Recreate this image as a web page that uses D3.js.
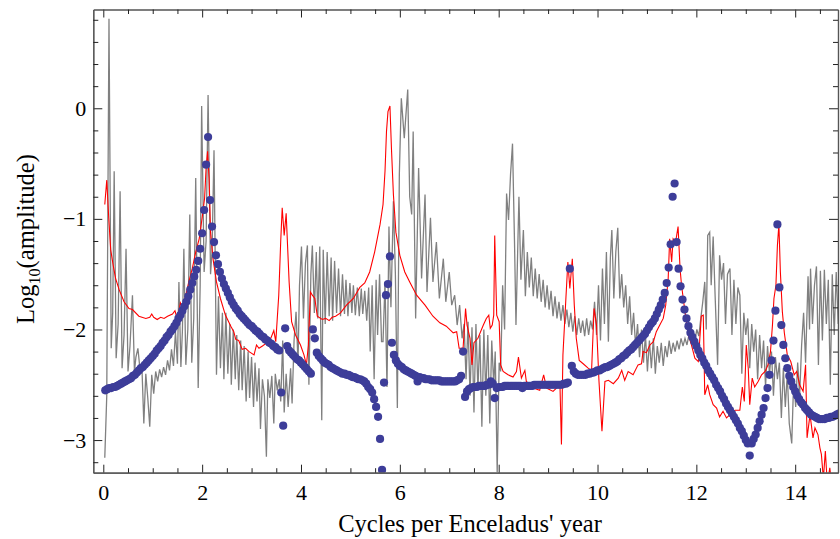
<!DOCTYPE html>
<html><head><meta charset="utf-8">
<script src="https://cdnjs.cloudflare.com/ajax/libs/d3/7.8.5/d3.min.js"></script>
<style>body{margin:0;background:#fff}svg{display:block}</style>
</head><body><svg id="c" width="840" height="539"></svg>
<script>
// ---------- data ----------
const xTicks = [0, 2, 4, 6, 8, 10, 12, 14];
const yTicks = [-3, -2, -1, 0];
const xLabel = "Cycles per Enceladus' year";

// blue dots: evenly sampled (start 0.04, step 0.04)
const blueStart = 0.04, blueStep = 0.04;
const blueY = [
-2.55,-2.54,-2.53,-2.53,-2.52,-2.52,-2.51,-2.50,-2.49,-2.48,
-2.47,-2.46,-2.45,-2.44,-2.42,-2.41,-2.39,-2.37,-2.35,-2.34,
-2.32,-2.30,-2.28,-2.26,-2.24,-2.22,-2.19,-2.17,-2.15,-2.12,
-2.10,-2.07,-2.05,-2.02,-2.00,-1.97,-1.94,-1.90,-1.87,-1.83,
-1.79,-1.75,-1.70,-1.64,-1.58,-1.52,-1.46,-1.38,-1.27,-1.13,
-0.92,-0.51,-0.26,-0.83,-1.07,-1.21,-1.33,-1.41,-1.48,-1.54,
-1.59,-1.63,-1.67,-1.71,-1.75,-1.78,-1.81,-1.83,-1.86,-1.88,
-1.90,-1.92,-1.94,-1.96,-1.97,-1.99,-2.01,-2.02,-2.04,-2.06,
-2.07,-2.09,-2.10,-2.12,-2.13,-2.15,-2.16,-2.18,-2.19,-2.57,
-2.87,-1.99,-2.15,-2.19,-2.21,-2.23,-2.25,-2.27,-2.28,-2.30,
-2.32,-2.34,-2.36,-2.38,-2.40,-2.00,-2.08,-2.21,-2.24,-2.26,
-2.28,-2.30,-2.31,-2.32,-2.34,-2.35,-2.36,-2.37,-2.38,-2.39,
-2.40,-2.40,-2.41,-2.41,-2.42,-2.43,-2.43,-2.44,-2.45,-2.45,
-2.46,-2.47,-2.49,-2.52,-2.54,-2.57,-2.63,-2.70,-2.79,-2.99,
-3.27,-2.48,-1.69,-1.59,-1.34,-2.12,-2.23,-2.28,-2.31,-2.33,
-2.34,-2.36,-2.37,-2.38,-2.39,-2.40,-2.41,-2.42,-2.47,-2.43,
-2.44,-2.44,-2.45,-2.45,-2.45,-2.46,-2.46,-2.46,-2.46,-2.46,
-2.47,-2.47,-2.47,-2.47,-2.47,-2.47,-2.47,-2.47,-2.46,-2.45,
-2.42,-2.20,-2.61,-2.56,-2.54,-2.53,-2.52,-2.52,-2.52,-2.51,
-2.51,-2.51,-2.51,-2.50,-2.50,-2.47,-2.49,-2.62,-2.53,-2.52,
-2.52,-2.52,-2.51,-2.51,-2.51,-2.51,-2.51,-2.51,-2.51,-2.51,
-2.51,-2.53,-2.51,-2.51,-2.51,-2.51,-2.51,-2.50,-2.50,-2.50,
-2.50,-2.50,-2.50,-2.50,-2.50,-2.50,-2.50,-2.50,-2.50,-2.50,
-2.50,-2.50,-2.49,-2.49,-2.48,-1.45,-2.33,-2.38,-2.40,-2.41,
-2.41,-2.41,-2.41,-2.41,-2.40,-2.40,-2.39,-2.39,-2.38,-2.37,
-2.37,-2.36,-2.35,-2.34,-2.34,-2.33,-2.32,-2.31,-2.30,-2.29,
-2.27,-2.26,-2.24,-2.23,-2.21,-2.19,-2.18,-2.16,-2.14,-2.12,
-2.10,-2.08,-2.06,-2.04,-2.01,-1.98,-1.95,-1.93,-1.90,-1.86,
-1.82,-1.78,-1.73,-1.67,-1.58,-1.44,-1.23,-0.80,-0.68,-1.21,
-1.45,-1.61,-1.73,-1.82,-1.90,-1.97,-2.03,-2.07,-2.11,-2.15,
-2.19,-2.23,-2.26,-2.30,-2.33,-2.37,-2.40,-2.43,-2.46,-2.50,
-2.53,-2.56,-2.60,-2.63,-2.67,-2.70,-2.73,-2.76,-2.79,-2.82,
-2.85,-2.89,-2.92,-2.96,-3.00,-3.03,-3.14,-3.03,-2.99,-2.95,
-2.89,-2.83,-2.77,-2.71,-2.62,-2.53,-2.41,-2.28,-2.10,-1.83,
-1.05,-1.62,-1.96,-2.14,-2.26,-2.35,-2.42,-2.47,-2.52,-2.56,
-2.60,-2.63,-2.66,-2.68,-2.71,-2.73,-2.75,-2.77,-2.78,-2.79,
-2.80,-2.81,-2.81,-2.81,-2.81,-2.80,-2.80,-2.79,-2.79,-2.78,
-2.77,-2.76
];

// red line vertices [x, log10 amplitude]
const redPts = [
[0.03,-0.87],[0.07,-0.65],[0.11,-0.99],[0.15,-1.28],[0.20,-1.42],[0.25,-1.54],[0.32,-1.64],[0.42,-1.75],[0.52,-1.81],[0.59,-1.82],
[0.72,-1.88],[0.86,-1.90],[0.94,-1.89],[0.98,-1.86],[1.02,-1.89],[1.09,-1.91],[1.16,-1.89],[1.23,-1.90],[1.30,-1.88],[1.40,-1.86],
[1.45,-1.83],[1.48,-1.88],[1.53,-1.84],[1.56,-1.76],[1.61,-1.81],[1.67,-1.69],[1.73,-1.57],[1.80,-1.45],[1.87,-1.30],[1.94,-1.18],
[2.00,-0.99],[2.05,-0.81],[2.08,-0.54],[2.11,-0.39],[2.14,-0.63],[2.17,-1.12],[2.22,-1.36],[2.29,-1.57],[2.37,-1.72],[2.47,-1.87],
[2.58,-1.97],[2.64,-2.02],[2.68,-2.09],[2.74,-2.10],[2.81,-2.18],[2.88,-2.17],[2.95,-2.20],[3.05,-2.23],[3.10,-2.14],[3.15,-2.17],
[3.22,-2.15],[3.28,-2.13],[3.38,-2.09],[3.45,-2.01],[3.49,-2.11],[3.55,-1.69],[3.59,-1.20],[3.62,-0.90],[3.66,-1.15],[3.70,-0.95],
[3.76,-1.57],[3.81,-1.93],[3.89,-2.05],[3.99,-2.14],[4.06,-2.23],[4.11,-2.32],[4.15,-2.14],[4.19,-1.66],[4.23,-1.69],[4.28,-1.72],
[4.33,-1.88],[4.43,-1.91],[4.50,-1.90],[4.57,-1.92],[4.63,-1.89],[4.70,-1.88],[4.80,-1.85],[4.92,-1.78],[5.06,-1.72],[5.19,-1.62],
[5.29,-1.58],[5.39,-1.48],[5.49,-1.30],[5.60,-1.05],[5.66,-0.87],[5.70,-0.57],[5.73,-0.21],[5.76,-0.03],[5.80,0.02],[5.83,-0.36],
[5.87,-0.78],[5.92,-1.12],[6.00,-1.33],[6.10,-1.48],[6.20,-1.57],[6.34,-1.69],[6.51,-1.78],[6.67,-1.88],[6.81,-1.94],[6.94,-1.97],
[7.08,-2.03],[7.15,-2.02],[7.20,-2.17],[7.28,-2.17],[7.33,-1.81],[7.36,-1.96],[7.42,-2.08],[7.46,-2.32],[7.50,-2.12],[7.58,-2.08],
[7.69,-1.96],[7.75,-1.90],[7.80,-1.87],[7.83,-1.99],[7.87,-1.96],[7.90,-1.87],[7.92,-1.15],[7.96,-1.87],[8.01,-1.93],[8.04,-2.32],
[8.09,-2.38],[8.19,-2.41],[8.29,-2.43],[8.36,-2.38],[8.40,-2.25],[8.46,-2.44],[8.53,-2.37],[8.56,-2.47],[8.70,-2.53],[8.83,-2.55],
[8.91,-2.41],[8.97,-2.53],[9.10,-2.56],[9.24,-2.50],[9.27,-3.04],[9.30,-2.23],[9.36,-1.72],[9.40,-1.39],[9.44,-1.63],[9.49,-1.36],
[9.53,-1.78],[9.57,-2.08],[9.63,-2.28],[9.71,-2.31],[9.81,-2.35],[9.88,-2.37],[9.93,-1.81],[9.98,-1.96],[10.03,-2.47],[10.09,-2.92],
[10.15,-2.47],[10.22,-2.46],[10.32,-2.49],[10.42,-2.44],[10.49,-2.37],[10.55,-2.46],[10.62,-2.38],[10.72,-2.41],[10.82,-2.32],[10.89,-2.31],
[10.92,-2.20],[10.99,-2.21],[11.06,-2.14],[11.13,-2.11],[11.19,-2.02],[11.26,-1.96],[11.33,-1.90],[11.38,-1.78],[11.43,-1.54],[11.46,-1.18],
[11.50,-1.39],[11.53,-1.18],[11.58,-1.21],[11.63,-1.07],[11.67,-1.45],[11.70,-1.60],[11.77,-1.84],[11.83,-2.03],[11.90,-2.14],[11.97,-2.26],
[12.04,-2.29],[12.10,-1.88],[12.14,-1.87],[12.17,-2.59],[12.23,-2.50],[12.27,-2.59],[12.34,-2.68],[12.41,-2.71],[12.47,-2.79],[12.54,-2.74],
[12.61,-2.80],[12.68,-2.77],[12.78,-2.73],[12.88,-2.73],[12.93,-2.52],[12.97,-2.65],[13.01,-2.14],[13.05,-2.35],[13.08,-2.68],[13.13,-2.44],
[13.18,-2.52],[13.25,-2.47],[13.32,-2.41],[13.39,-2.38],[13.45,-2.32],[13.50,-2.20],[13.54,-1.96],[13.57,-1.72],[13.61,-1.60],[13.64,-1.24],
[13.67,-1.05],[13.70,-1.48],[13.74,-1.84],[13.78,-2.03],[13.84,-2.23],[13.91,-2.29],[13.98,-2.41],[14.03,-2.38],[14.09,-2.50],[14.16,-2.56],
[14.21,-2.32],[14.24,-2.98],[14.30,-2.77],[14.36,-2.98],[14.40,-2.89],[14.46,-2.95],[14.50,-3.07],[14.53,-3.13],[14.57,-3.35],[14.61,-3.10],
[14.65,-3.40],[14.70,-3.25],[14.75,-3.45],[14.80,-3.30],[14.86,-3.50]
];

// gray line vertices [x, log10 amplitude]
const grayPts = [
[0.03,-3.16],[0.07,-2.60],[0.115,0.81],[0.16,-2.17],[0.19,-1.85],[0.22,-0.57],[0.26,-2.26],[0.30,-1.95],[0.34,-0.75],[0.38,-2.35],
[0.42,-2.05],[0.46,-1.27],[0.50,-2.38],[0.54,-2.15],[0.59,-1.69],[0.63,-2.38],[0.66,-2.25],[0.70,-2.17],[0.74,-2.35],
[0.78,-2.32],[0.82,-2.85],[0.86,-2.40],[0.90,-2.62],[0.94,-2.88],[0.98,-2.41],[1.02,-2.58],[1.06,-2.38],[1.10,-2.47],[1.14,-2.36],
[1.18,-2.43],[1.22,-2.34],[1.26,-2.41],[1.30,-2.28],[1.34,-2.37],[1.38,-2.18],[1.42,-2.33],[1.46,-2.02],[1.50,-2.31],
[1.53,-1.57],[1.57,-2.34],[1.60,-2.02],[1.63,-1.27],[1.67,-2.32],[1.71,-2.00],[1.75,-0.96],[1.79,-2.30],[1.83,-1.90],[1.87,-0.63],
[1.92,-2.53],[1.96,-1.60],[1.99,0.02],[2.04,-1.48],[2.08,-1.20],[2.12,0.12],[2.17,-1.50],[2.20,-1.30],[2.24,-0.38],[2.29,-2.41],
[2.33,-1.70],[2.37,-2.35],[2.41,-1.85],[2.44,-2.45],[2.48,-1.85],[2.52,-2.40],[2.56,-1.95],[2.59,-2.50],[2.63,-2.00],[2.67,-2.45],
[2.70,-2.05],[2.74,-2.55],[2.78,-2.10],[2.81,-2.55],[2.85,-2.15],[2.89,-2.65],[2.93,-2.20],[2.96,-2.62],[3.00,-2.25],[3.04,-2.70],
[3.07,-2.30],[3.11,-2.65],[3.15,-2.35],[3.18,-2.90],[3.22,-2.45],[3.26,-2.60],[3.30,-3.15],[3.33,-2.45],[3.37,-2.62],[3.41,-2.42],
[3.45,-2.85],[3.48,-2.40],[3.52,-2.55],[3.56,-2.45],[3.59,-2.65],[3.63,-2.10],[3.66,-2.75],
[3.70,-2.40],[3.74,-2.70],[3.79,-2.35],[3.82,-2.67],[3.86,-2.10],[3.90,-1.84],[3.94,-2.30],[3.97,-1.60],[4.01,-1.25],[4.05,-1.90],
[4.09,-1.40],[4.13,-1.24],[4.16,-2.50],[4.20,-1.50],[4.23,-1.24],[4.27,-1.85],[4.31,-1.30],[4.34,-1.90],[4.38,-1.25],[4.42,-2.82],
[4.45,-1.28],[4.49,-1.95],[4.53,-1.30],[4.57,-1.88],[4.61,-1.35],[4.64,-1.92],[4.68,-1.38],[4.72,-1.85],[4.76,-1.45],[4.80,-1.88],
[4.84,-1.50],[4.88,-1.86],[4.91,-1.55],[4.95,-1.88],[4.99,-1.58],[5.03,-1.85],[5.06,-1.60],[5.10,-1.87],[5.14,-1.62],[5.18,-1.88],
[5.22,-1.63],[5.25,-1.86],[5.29,-1.65],[5.33,-1.92],[5.37,-1.62],[5.40,-2.20],[5.44,-1.60],[5.48,-2.45],[5.52,-1.55],[5.55,-2.05],
[5.59,-1.50],[5.63,-2.11],[5.66,-2.11],[5.70,-1.57],[5.74,-2.52],[5.78,-1.07],[5.82,-1.80],[5.87,-0.84],[5.91,-1.50],[5.95,-2.71],
[5.99,-0.60],[6.03,0.09],[6.09,-0.27],[6.16,0.17],[6.20,-0.80],[6.24,-0.96],[6.27,-0.21],[6.32,-1.90],[6.38,-0.54],[6.44,-1.54],
[6.51,-0.78],[6.55,-1.66],[6.62,-0.99],[6.67,-1.57],[6.74,-1.21],[6.80,-1.72],[6.88,-1.36],[6.93,-1.75],[7.00,-1.48],[7.05,-1.78],
[7.11,-1.69],[7.16,-1.96],[7.21,-1.78],[7.26,-2.08],
[7.30,-1.95],[7.34,-2.45],[7.38,-1.93],[7.42,-2.60],[7.46,-1.98],[7.50,-2.75],[7.54,-1.95],[7.58,-2.55],[7.62,-2.05],[7.66,-2.88],
[7.70,-2.00],[7.74,-2.60],[7.78,-2.05],[7.82,-2.85],[7.86,-2.10],[7.90,-2.50],[7.93,-2.20],[7.97,-3.29],[8.01,-2.30],
[8.04,-2.38],[8.08,-1.60],[8.12,-2.00],[8.16,-0.77],[8.20,-1.01],[8.24,-0.60],[8.28,-0.32],[8.32,-1.20],[8.35,-1.96],[8.41,-0.80],
[8.45,-1.55],[8.50,-1.10],[8.54,-1.70],[8.58,-1.30],[8.62,-1.62],[8.66,-1.35],[8.70,-1.70],[8.74,-1.45],[8.78,-1.72],
[8.82,-1.50],[8.86,-1.75],[8.90,-1.55],[8.94,-1.80],[8.98,-1.60],[9.02,-1.82],[9.06,-1.65],[9.10,-1.88],[9.14,-1.70],[9.18,-1.90],
[9.22,-1.75],[9.26,-1.92],[9.30,-1.78],[9.34,-1.95],[9.38,-1.82],[9.42,-1.98],[9.46,-1.85],[9.50,-2.02],[9.54,-1.88],[9.58,-2.05],
[9.62,-1.90],[9.66,-2.03],[9.70,-1.92],[9.74,-2.06],[9.78,-1.90],[9.82,-2.05],[9.86,-1.92],
[9.90,-2.00],[9.94,-1.75],[9.98,-2.05],[10.02,-1.60],[10.06,-2.10],[10.10,-1.45],[10.14,-1.95],[10.18,-1.30],[10.22,-2.11],[10.26,-1.35],
[10.29,-1.10],[10.33,-1.72],[10.37,-1.30],[10.41,-1.08],[10.45,-1.72],[10.49,-1.50],[10.53,-1.80],[10.57,-1.60],[10.61,-1.95],[10.65,-1.70],
[10.69,-2.05],[10.73,-1.85],[10.77,-2.15],
[10.81,-1.95],[10.85,-2.25],[10.89,-2.00],[10.93,-2.30],[10.97,-2.05],[11.01,-2.38],[11.05,-2.10],[11.09,-2.35],[11.13,-2.08],[11.17,-2.40],
[11.21,-2.15],[11.25,-2.30],[11.29,-2.12],[11.33,-2.33],[11.37,-2.15],[11.41,-2.25],[11.45,-2.10],[11.49,-2.22],[11.53,-2.12],[11.57,-2.20],
[11.61,-2.10],[11.65,-2.18],[11.69,-2.08],[11.73,-2.15],[11.77,-2.08],[11.81,-2.14],[11.85,-2.05],[11.89,-2.12],[11.93,-2.02],[11.97,-2.10],
[12.01,-2.00],[12.05,-2.06],[12.09,-1.90],
[12.13,-1.75],[12.17,-1.57],[12.20,-2.00],[12.23,-1.15],[12.27,-1.12],[12.30,-1.60],[12.34,-1.16],[12.38,-1.70],[12.43,-2.32],[12.47,-1.33],
[12.51,-1.55],[12.55,-1.40],[12.59,-1.95],[12.63,-1.50],[12.68,-1.45],[12.72,-2.05],[12.76,-1.55],[12.80,-1.95],[12.84,-1.62],[12.88,-1.69],
[12.92,-2.40],[12.96,-1.85],[13.00,-2.05],
[13.04,-1.90],[13.08,-2.35],[13.12,-1.95],[13.16,-2.20],[13.20,-2.00],[13.24,-2.45],[13.28,-2.05],[13.32,-2.35],[13.36,-2.10],[13.40,-2.52],
[13.44,-2.15],[13.48,-2.40],[13.52,-2.20],[13.56,-2.60],[13.60,-2.25],[13.64,-2.45],[13.68,-2.30],[13.72,-2.80],[13.76,-2.35],[13.80,-2.70],
[13.84,-2.40],[13.88,-2.85],[13.93,-3.03],[13.97,-2.45],[14.01,-2.70],[14.05,-2.30],[14.09,-2.60],[14.13,-2.14],
[14.17,-1.85],[14.21,-2.30],[14.26,-1.52],[14.29,-2.00],[14.31,-1.45],[14.35,-1.95],[14.39,-1.60],[14.43,-1.43],[14.47,-2.32],[14.51,-1.47],
[14.55,-2.10],[14.59,-1.46],[14.63,-1.95],[14.67,-1.55],[14.71,-2.50],[14.75,-1.50],[14.79,-2.05],[14.83,-1.48],[14.87,-1.95],[14.91,-1.55]
];

// ---------- drawing ----------
const L = 93.3, R = 838, T = 9.5, B = 472.7;
const FONT = "'Liberation Serif', 'Times New Roman', Times, serif";
const svg = d3.select("#c");
const x = d3.scaleLinear().domain([-0.2024, 14.866]).range([L, R]);
const y = d3.scaleLinear().domain([-3.295, 0.893]).range([B, T]);

svg.append("defs").append("clipPath").attr("id","clip")
  .append("rect").attr("x",L).attr("y",T).attr("width",R-L).attr("height",B-T);

const plot = svg.append("g").attr("clip-path","url(#clip)");
const line = d3.line().x(d=>x(d[0])).y(d=>y(d[1]));

plot.append("path").datum(grayPts).attr("d",line)
  .attr("fill","none").attr("stroke","#808080").attr("stroke-width",1.3);
plot.append("path").datum(redPts).attr("d",line)
  .attr("fill","none").attr("stroke","#ff0000").attr("stroke-width",1.1);
plot.selectAll("circle").data(blueY).join("circle")
  .attr("cx",(d,i)=>x(blueStart + i*blueStep))
  .attr("cy",d=>y(d))
  .attr("r",4.1)
  .attr("fill","#3d3d99");

// frame + ticks (Mathematica style, ticks inward)
const ax = svg.append("g");
const fmt = v => (v < 0 ? "\u2212" + Math.abs(v) : String(v));
const xMinor = d3.range(0, 15, 0.5).filter(v => !xTicks.includes(v));
const yMinor = d3.range(-3.2, 0.81, 0.2).map(v=>+v.toFixed(1)).filter(v => !yTicks.includes(v));

const axB = d3.axisBottom(x).tickValues(xTicks).tickSizeInner(-8).tickSizeOuter(0).tickFormat(fmt).tickPadding(12);
const axBm = d3.axisBottom(x).tickValues(xMinor).tickSizeInner(-4.5).tickSizeOuter(0).tickFormat("");
const axT = d3.axisTop(x).tickValues(xTicks).tickSizeInner(-8).tickSizeOuter(0).tickFormat("");
const axTm = d3.axisTop(x).tickValues(xMinor).tickSizeInner(-4.5).tickSizeOuter(0).tickFormat("");
const axL = d3.axisLeft(y).tickValues(yTicks).tickSizeInner(-9).tickSizeOuter(0).tickFormat(fmt).tickPadding(7);
const axLm = d3.axisLeft(y).tickValues(yMinor).tickSizeInner(-5).tickSizeOuter(0).tickFormat("");
const axR = d3.axisRight(y).tickValues(yTicks).tickSizeInner(-9).tickSizeOuter(0).tickFormat("");
const axRm = d3.axisRight(y).tickValues(yMinor).tickSizeInner(-5).tickSizeOuter(0).tickFormat("");

function style(g){
  g.select(".domain").attr("stroke","#555").attr("stroke-width",1.2);
  g.selectAll(".tick line").attr("stroke","#222").attr("stroke-width",1);
  g.selectAll(".tick text").attr("fill","#000").attr("font-family",null).attr("font-size",null)
    .style("font-family",FONT).style("font-size","22px");
}
ax.append("g").attr("transform",`translate(0,${B})`).call(axB).call(style);
ax.append("g").attr("transform",`translate(0,${B})`).call(axBm).call(style);
ax.append("g").attr("transform",`translate(0,${T})`).call(axT).call(style);
ax.append("g").attr("transform",`translate(0,${T})`).call(axTm).call(style);
ax.append("g").attr("transform",`translate(${L},0)`).call(axL).call(style);
ax.append("g").attr("transform",`translate(${L},0)`).call(axLm).call(style);
ax.append("g").attr("transform",`translate(${R},0)`).call(axR).call(style);
ax.append("g").attr("transform",`translate(${R},0)`).call(axRm).call(style);

// axis labels
svg.append("text").attr("x",470).attr("y",532)
  .attr("text-anchor","middle")
  .style("font-family",FONT).style("font-size","24.5px")
  .text(xLabel);
const yl = svg.append("text").attr("transform",`translate(34,239) rotate(-90)`)
  .attr("text-anchor","middle")
  .style("font-family",FONT).style("font-size","24.5px");
yl.append("tspan").text("Log");
yl.append("tspan").attr("dy",6).style("font-size","16px").text("10");
yl.append("tspan").attr("dy",-6).text("(amplitude)");
</script>
</body></html>
